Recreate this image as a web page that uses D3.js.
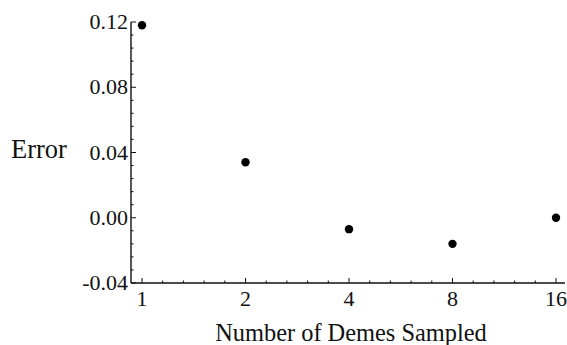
<!DOCTYPE html>
<html>
<head>
<meta charset="utf-8">
<script src="https://cdn.jsdelivr.net/npm/d3@7"></script>
<style>
  html, body { margin: 0; padding: 0; background: #fff; }
  svg { display: block; }
  text { font-family: "Liberation Serif", "DejaVu Serif", serif; fill: #111; }
</style>
</head>
<body>
<svg id="chart" width="567" height="345"></svg>
<script>
// Demes sampled and resulting error
const demes = [1, 2, 4, 8, 16];
const errors = [0.118, 0.034, -0.007, -0.016, 0.000];
const xTickValues = [1, 2, 4, 8, 16];
const yTickValues = [-0.04, 0.00, 0.04, 0.08, 0.12];
const yTickLabels = ["-0.04", "0.00", "0.04", "0.08", "0.12"];
const xTitle = "Number of Demes Sampled";
const yTitle = "Error";

const svg = d3.select("#chart");
const ink = "#111";

const axisLeft = 131, axisRight = 565, axisTop = 22, axisBottom = 283;

const x = d3.scaleLog().base(2).domain([1, 16]).range([142, 556]);
const y = d3.scaleLinear().domain([-0.04, 0.12]).range([axisBottom, axisTop]);

// axis lines
svg.append("line")
  .attr("x1", axisLeft).attr("x2", axisLeft)
  .attr("y1", axisTop).attr("y2", axisBottom)
  .attr("stroke", ink).attr("stroke-width", 1.4);
svg.append("line")
  .attr("x1", axisLeft).attr("x2", axisRight)
  .attr("y1", axisBottom).attr("y2", axisBottom)
  .attr("stroke", ink).attr("stroke-width", 1.4);

// y ticks: major every 0.04, four minor between
const yMinor = d3.range(0, 21).map(i => -0.04 + i * 0.008).filter(v => v <= 0.1201);
svg.append("g").selectAll("line").data(yMinor).join("line")
  .attr("x1", axisLeft).attr("x2", (d, i) => axisLeft + (i % 5 === 0 ? 5 : 2.5))
  .attr("y1", d => y(d)).attr("y2", d => y(d))
  .attr("stroke", ink).attr("stroke-width", 1);

svg.append("g").selectAll("text").data(yTickValues).join("text")
  .attr("x", axisLeft - 3)
  .attr("y", d => y(d) + 7)
  .attr("text-anchor", "end")
  .attr("font-size", 22)
  .text((d, i) => yTickLabels[i]);

// x ticks: major at each doubling, minor every fifth of an octave
const xMinorExp = d3.range(0, 21).map(i => i * 0.2);
svg.append("g").selectAll("line").data(xMinorExp).join("line")
  .attr("x1", d => x(Math.pow(2, d))).attr("x2", d => x(Math.pow(2, d)))
  .attr("y1", axisBottom)
  .attr("y2", (d, i) => axisBottom - (i % 5 === 0 ? 5 : 2.5))
  .attr("stroke", ink).attr("stroke-width", 1);

svg.append("g").selectAll("text").data(xTickValues).join("text")
  .attr("x", d => x(d))
  .attr("y", 306)
  .attr("text-anchor", "middle")
  .attr("font-size", 22)
  .text(d => d);

// titles
svg.append("text")
  .attr("x", 351)
  .attr("y", 341)
  .attr("text-anchor", "middle")
  .attr("font-size", 24.4)
  .text(xTitle);

svg.append("text")
  .attr("x", 11)
  .attr("y", 158)
  .attr("font-size", 26.5)
  .text(yTitle);

// points
svg.append("g").selectAll("circle").data(demes).join("circle")
  .attr("cx", d => x(d))
  .attr("cy", (d, i) => y(errors[i]))
  .attr("r", 4.2)
  .attr("fill", "#000");
</script>
</body>
</html>
